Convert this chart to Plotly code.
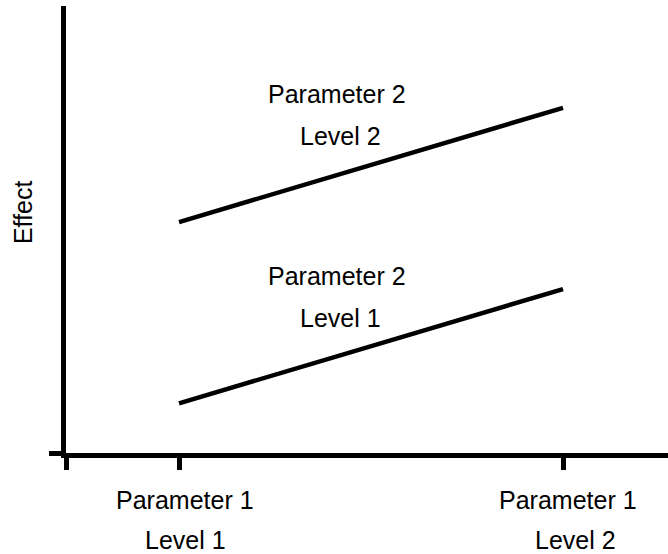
import plotly.graph_objects as go

# Schematic of a two-factor effect with no interaction
param1_levels = [1, 2]
param1_labels = ["Level 1", "Level 2"]
effect_p2_level1 = [1.0, 3.3]
effect_p2_level2 = [4.65, 6.95]
series_labels = ["Level 1", "Level 2"]

FONT = "Liberation Sans, Arial, sans-serif"
FS = 25

fig = go.Figure()
for ys in (effect_p2_level1, effect_p2_level2):
    fig.add_trace(go.Scatter(
        x=param1_levels, y=ys, mode="lines",
        line=dict(color="black", width=4.5),
        showlegend=False, hoverinfo="skip",
    ))

annotations = []
# series labels above each line
for ys, lab in zip((effect_p2_level1, effect_p2_level2), series_labels):
    mid_x = 1.417
    mid_y = ys[0] + (ys[1] - ys[0]) * (mid_x - param1_levels[0])
    annotations.append(dict(x=mid_x, y=mid_y, xref="x", yref="y",
                            text="Parameter 2", showarrow=False,
                            yanchor="middle", yshift=80, xshift=-2))
    annotations.append(dict(x=mid_x, y=mid_y, xref="x", yref="y",
                            text=lab, showarrow=False,
                            yanchor="middle", yshift=38, xshift=1))

# category labels under the x axis
label_shift = {0: (6, 6), 1: (5, 12)}
for i, (xv, lab) in enumerate(zip(param1_levels, param1_labels)):
    s1, s2 = label_shift[i]
    annotations.append(dict(x=xv, y=0, xref="x", yref="paper",
                            text="Parameter 1", showarrow=False,
                            yanchor="middle", yshift=-47, xshift=s1))
    annotations.append(dict(x=xv, y=0, xref="x", yref="paper",
                            text=lab, showarrow=False,
                            yanchor="middle", yshift=-87, xshift=s2))

# y axis title
annotations.append(dict(x=0, y=0.539, xref="paper", yref="paper",
                        text="Effect", showarrow=False, textangle=-90,
                        xanchor="center", yanchor="middle", xshift=-43))

fig.update_layout(
    width=668, height=554,
    margin=dict(l=66, r=0, t=6, b=101),
    paper_bgcolor="white", plot_bgcolor="white",
    font=dict(family=FONT, size=FS, color="black"),
    annotations=annotations,
    xaxis=dict(range=[0.7057, 2.2734], showgrid=False, zeroline=False,
               showline=True, linecolor="black", linewidth=4.5,
               ticks="outside", ticklen=12, tickwidth=4.5, tickcolor="black",
               tickvals=[0.7057] + param1_levels, showticklabels=False),
    yaxis=dict(range=[0, 9], showgrid=False, zeroline=False,
               showline=True, linecolor="black", linewidth=4.5,
               ticks="outside", ticklen=12, tickwidth=4.5, tickcolor="black",
               tickvals=[0], showticklabels=False),
)

fig.write_html("out.html")
